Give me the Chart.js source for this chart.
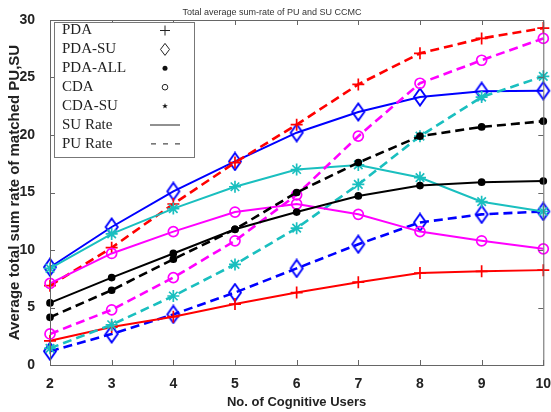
<!DOCTYPE html>
<html lang="en">
<head>
<meta charset="utf-8">
<title>Total average sum-rate of PU and SU CCMC</title>
<script src="https://cdn.jsdelivr.net/npm/chart.js@4.4.1/dist/chart.umd.min.js"></script>
<style>
  html, body { margin: 0; padding: 0; background: #fff; }
  canvas { display: block; }
</style>
</head>
<body>
<canvas id="rate" width="551" height="412"></canvas>
<script>
  // number of cognitive users
  const users = ['2', '3', '4', '5', '6', '7', '8', '9', '10'];

  // SU rate (solid) and PU rate (dashed) for each scheme
  const pdaSu     = [2.1, 3.3, 4.2, 5.3, 6.3, 7.2, 8.0, 8.15, 8.25];
  const pdaPu     = [6.9, 10.2, 14.0, 17.6, 20.9, 24.4, 27.1, 28.4, 29.3];
  const pdaSuSu   = [8.5, 12.0, 15.1, 17.7, 20.2, 22.0, 23.3, 23.8, 23.85];
  const pdaSuPu   = [1.2, 2.7, 4.4, 6.3, 8.4, 10.5, 12.4, 13.1, 13.35];
  const pdaAllSu  = [5.4, 7.6, 9.7, 11.8, 13.3, 14.7, 15.6, 15.9, 16.0];
  const pdaAllPu  = [4.15, 6.5, 9.2, 11.8, 15.0, 17.6, 19.9, 20.7, 21.2];
  const cdaSu     = [7.1, 9.7, 11.6, 13.3, 14.0, 13.1, 11.6, 10.8, 10.1];
  const cdaPu     = [2.7, 4.8, 7.6, 10.8, 14.8, 19.9, 24.5, 26.5, 28.4];
  const cdaSuSu   = [8.4, 11.4, 13.6, 15.5, 17.0, 17.4, 16.3, 14.2, 13.35];
  const cdaSuPu   = [1.45, 3.5, 6.0, 8.75, 11.9, 15.7, 19.9, 23.3, 25.1];

  const yTicks = [0, 5, 10, 15, 20, 25, 30];
  const legendRows = ['PDA', 'PDA-SU', 'PDA-ALL', 'CDA', 'CDA-SU', 'SU Rate', 'PU Rate'];

  const RED = '#ff0000', BLUE = '#0000ff', BLACK = '#000000', MAG = '#ff00ff', CYAN = '#1abfbf';
  const DASH = [9, 5];

  Chart.defaults.font.family = '"Liberation Sans", Arial, sans-serif';
  Chart.defaults.color = '#222';

  // tall diamond marker, like matlab's 'd'
  function diamond(color) {
    const c = document.createElement('canvas');
    c.width = 16; c.height = 20;
    const g = c.getContext('2d');
    g.strokeStyle = color;
    g.lineWidth = 1.9;
    g.beginPath();
    g.moveTo(8, 1.5); g.lineTo(14, 10); g.lineTo(8, 18.5); g.lineTo(2, 10);
    g.closePath();
    g.stroke();
    return c;
  }
  const blueDiamond = diamond(BLUE);

  function series(data, color, marker, dashed) {
    const ds = {
      data: data,
      borderColor: color,
      backgroundColor: color,
      borderWidth: dashed ? 2.6 : 2,
      borderDash: dashed ? DASH : [],
      pointBorderColor: color,
      pointBorderWidth: 1.7,
      pointStyle: marker,
      pointRadius: 6,
      tension: 0
    };
    if (marker === 'circle-open') {
      ds.pointStyle = 'circle';
      ds.pointRadius = 5;
      ds.pointBackgroundColor = 'rgba(0,0,0,0)';
    } else if (marker === 'dot') {
      ds.pointStyle = 'circle';
      ds.pointRadius = 3;
      ds.pointBackgroundColor = color;
    } else if (marker === 'diamond') {
      ds.pointStyle = blueDiamond;
    }
    return ds;
  }

  // box axes with inward tick marks on all four sides
  const frame = {
    id: 'frame',
    afterDatasetsDraw(chart) {
      const { ctx, chartArea: a, scales } = chart;
      ctx.save();
      ctx.strokeStyle = '#666';
      ctx.lineWidth = 1;
      ctx.strokeRect(a.left + 0.5, a.top + 0.5, a.right - a.left, a.bottom - a.top);
      ctx.beginPath();
      users.forEach((u, i) => {
        const x = Math.round(scales.x.getPixelForValue(i)) + 0.5;
        ctx.moveTo(x, a.bottom); ctx.lineTo(x, a.bottom - 5);
        ctx.moveTo(x, a.top); ctx.lineTo(x, a.top + 5);
      });
      yTicks.forEach(v => {
        const y = Math.round(scales.y.getPixelForValue(v)) + 0.5;
        ctx.moveTo(a.left, y); ctx.lineTo(a.left + 5, y);
        ctx.moveTo(a.right, y); ctx.lineTo(a.right - 5, y);
      });
      ctx.stroke();
      ctx.restore();
    }
  };

  // marker/line-style key in the top left corner
  const keyBox = {
    id: 'keyBox',
    afterDraw(chart) {
      const ctx = chart.ctx;
      const left = 54, top = 22, right = 194, bottom = 157;
      const step = 18.9, first = 30.5, sx = 165;
      ctx.save();
      ctx.fillStyle = '#fff';
      ctx.fillRect(left, top, right - left, bottom - top);
      ctx.strokeStyle = '#777';
      ctx.lineWidth = 1;
      ctx.strokeRect(left + 0.5, top + 0.5, right - left, bottom - top);
      ctx.font = '15px "Liberation Serif", "Times New Roman", serif';
      ctx.fillStyle = '#222';
      ctx.textBaseline = 'middle';
      legendRows.forEach((t, i) => ctx.fillText(t, left + 8, first + i * step));

      ctx.strokeStyle = '#222';
      ctx.fillStyle = '#111';
      ctx.lineWidth = 1;
      let y = first;
      // +
      ctx.beginPath();
      ctx.moveTo(sx - 5, y); ctx.lineTo(sx + 5, y);
      ctx.moveTo(sx, y - 5); ctx.lineTo(sx, y + 5);
      ctx.stroke();
      // diamond
      y += step;
      ctx.beginPath();
      ctx.moveTo(sx, y - 6); ctx.lineTo(sx + 4.5, y); ctx.lineTo(sx, y + 6); ctx.lineTo(sx - 4.5, y);
      ctx.closePath(); ctx.stroke();
      // dot
      y += step;
      ctx.beginPath(); ctx.arc(sx, y, 2.5, 0, Math.PI * 2); ctx.fill();
      // small circle
      y += step;
      ctx.beginPath(); ctx.arc(sx, y, 2.8, 0, Math.PI * 2); ctx.stroke();
      // star
      y += step;
      ctx.beginPath();
      for (let k = 0; k < 10; k++) {
        const r = k % 2 ? 1.2 : 3;
        const ang = -Math.PI / 2 + k * Math.PI / 5;
        const px = sx + r * Math.cos(ang), py = y + r * Math.sin(ang);
        k ? ctx.lineTo(px, py) : ctx.moveTo(px, py);
      }
      ctx.closePath(); ctx.fill();
      // solid line
      y += step;
      ctx.beginPath(); ctx.moveTo(sx - 15, y); ctx.lineTo(sx + 15, y); ctx.stroke();
      // dashed line
      y += step;
      ctx.setLineDash([5, 7]);
      ctx.beginPath(); ctx.moveTo(sx - 14, y); ctx.lineTo(sx + 15, y); ctx.stroke();
      ctx.restore();
    }
  };

  new Chart('rate', {
    type: 'line',
    data: {
      labels: users,
      datasets: [
        series(pdaAllSu, BLACK, 'dot', false),
        series(pdaAllPu, BLACK, 'dot', true),
        series(cdaSu, MAG, 'circle-open', false),
        series(cdaPu, MAG, 'circle-open', true),
        series(cdaSuSu, CYAN, 'star', false),
        series(cdaSuPu, CYAN, 'star', true),
        series(pdaSu, RED, 'cross', false),
        series(pdaPu, RED, 'cross', true),
        series(pdaSuSu, BLUE, 'diamond', false),
        series(pdaSuPu, BLUE, 'diamond', true)
      ]
    },
    options: {
      responsive: false,
      animation: false,
      devicePixelRatio: 1,
      layout: { padding: { left: 0, right: 7, top: 0, bottom: 0 } },
      plugins: {
        legend: { display: false },
        tooltip: { enabled: false },
        title: {
          display: true,
          text: 'Total average sum-rate of PU and SU CCMC',
          font: { size: 9, weight: 'normal' },
          color: '#333',
          padding: { top: 7, bottom: 2.2 }
        }
      },
      scales: {
        x: {
          offset: false,
          grid: { display: false },
          border: { display: false },
          ticks: { font: { size: 14, weight: 'bold' }, color: '#222', padding: 3, maxRotation: 0 },
          title: {
            display: true,
            text: 'No. of Cognitive Users',
            font: { size: 13, weight: 'bold' },
            color: '#222',
            padding: { top: 2, bottom: 2 }
          },
          afterFit(scale) {
            scale.height = 47;
            scale.paddingLeft = 0;
            scale.paddingRight = 0;
          }
        },
        y: {
          min: 0, max: 30,
          grid: { display: false },
          border: { display: false },
          ticks: { stepSize: 5, font: { size: 14, weight: 'bold' }, color: '#222', padding: 7 },
          title: {
            display: true,
            text: 'Average total sum rate of matched PU,SU',
            font: { size: 15, weight: 'bold' },
            color: '#222',
            padding: { top: 6, bottom: 0 }
          },
          afterFit(scale) { scale.width = 50; }
        }
      }
    },
    plugins: [frame, keyBox]
  });
</script>
</body>
</html>
